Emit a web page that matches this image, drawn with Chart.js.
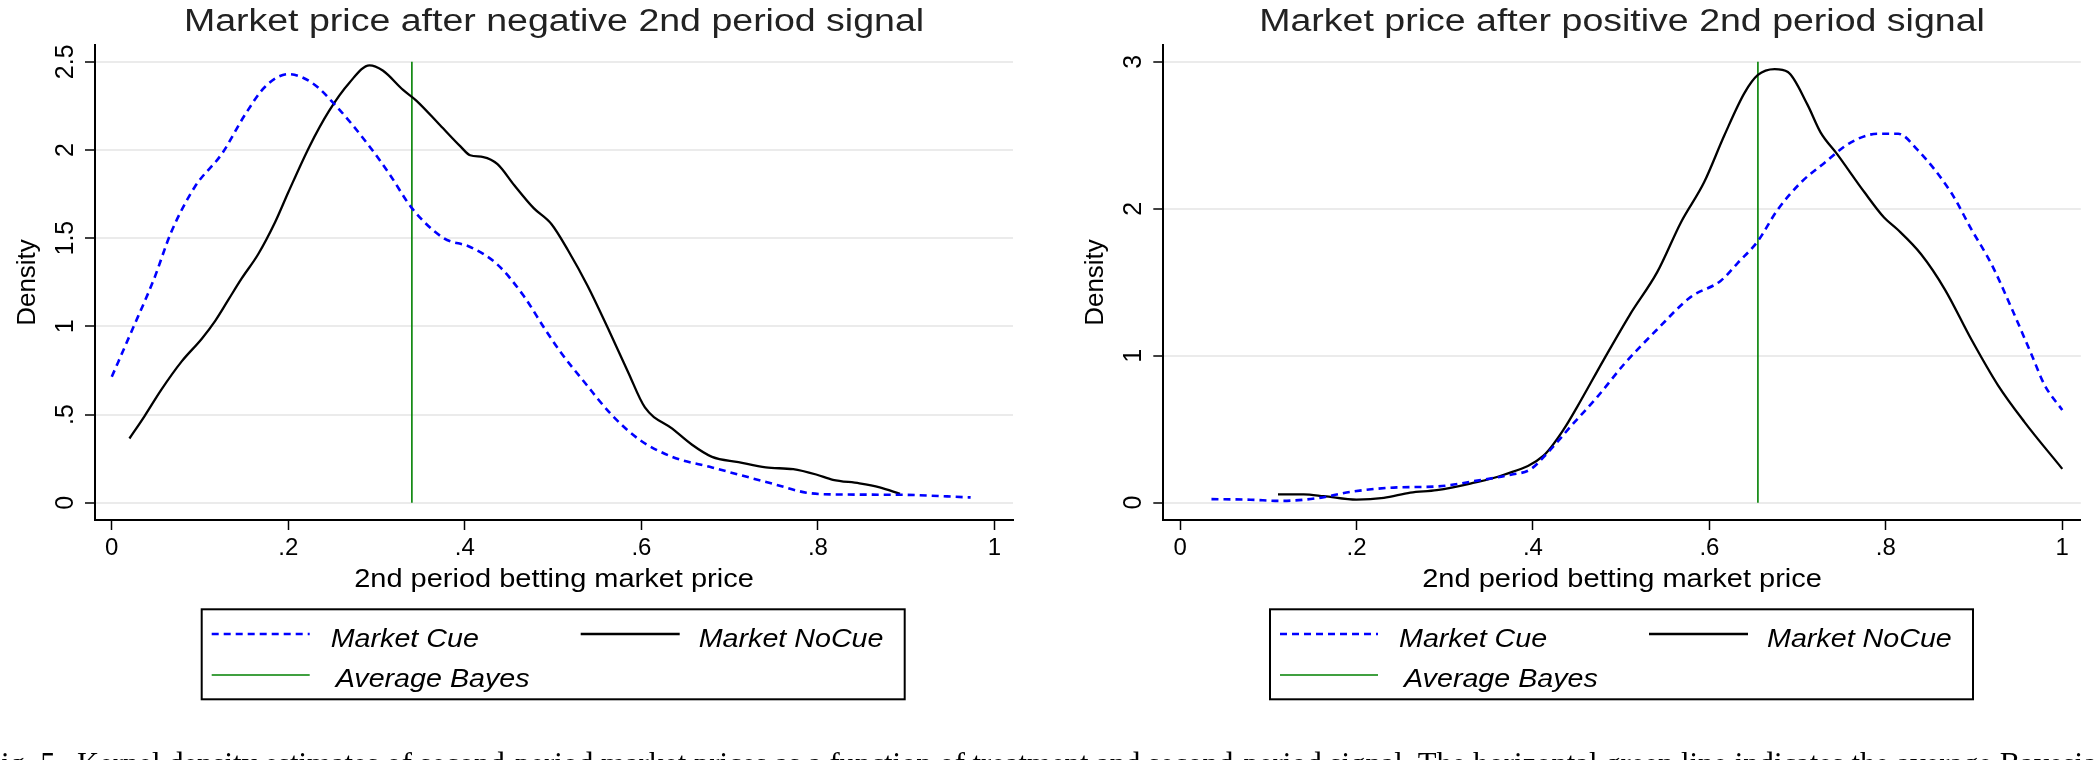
<!DOCTYPE html>
<html>
<head>
<meta charset="utf-8">
<title>Market price after 2nd period signal</title>
<script src="https://cdn.jsdelivr.net/npm/chart.js@4.4.0/dist/chart.umd.min.js"></script>
<style>
  html, body { margin: 0; padding: 0; background: #fff; }
  body { width: 2094px; height: 760px; overflow: hidden; position: relative; }
  .panel { position: absolute; top: 0; width: 1047px; height: 760px; }
  #caption {
    position: absolute; left: -16px; top: 749px; white-space: nowrap;
    font-family: "Liberation Serif", serif; font-size: 30.7px; line-height: 31px; color: #000;
  }
  #caption span { margin-left: 6px; }
</style>
</head>
<body>
<div class="panel" style="left:0"><canvas id="negChart" width="1047" height="760"></canvas></div>
<div class="panel" style="left:1047px"><canvas id="posChart" width="1047" height="760"></canvas></div>
<div id="caption">Fig. 5. <span>Kernel density estimates of second-period market prices as a function of treatment and second-period signal. The horizontal green line indicates the average Bayesian posterior.</span></div>

<script>
// ---- data ----
const xTicks = [0, 0.2, 0.4, 0.6, 0.8, 1];
const xTickLabels = ['0', '.2', '.4', '.6', '.8', '1'];

// negative 2nd period signal
const negYTicks = [0, 0.5, 1, 1.5, 2, 2.5];
const negYTickLabels = ['0', '.5', '1', '1.5', '2', '2.5'];
const negCueX = [0, 0.022, 0.048, 0.067, 0.094, 0.125, 0.151, 0.174, 0.2, 0.227, 0.254, 0.292, 0.315, 0.34, 0.376, 0.406, 0.437, 0.467, 0.49, 0.509, 0.536, 0.566, 0.597, 0.635, 0.68, 0.749, 0.787, 0.817, 0.893, 0.973];
const negCueY = [0.714, 0.967, 1.27, 1.53, 1.79, 1.98, 2.2, 2.36, 2.43, 2.38, 2.25, 2.02, 1.86, 1.67, 1.5, 1.45, 1.35, 1.17, 0.99, 0.85, 0.68, 0.5, 0.36, 0.26, 0.2, 0.107, 0.057, 0.047, 0.045, 0.03];
const negNoCueX = [0.02, 0.037, 0.056, 0.079, 0.102, 0.117, 0.132, 0.147, 0.166, 0.185, 0.2, 0.224, 0.246, 0.269, 0.292, 0.307, 0.33, 0.345, 0.372, 0.395, 0.406, 0.421, 0.437, 0.456, 0.478, 0.498, 0.517, 0.539, 0.562, 0.585, 0.604, 0.635, 0.657, 0.68, 0.71, 0.741, 0.772, 0.798, 0.817, 0.847, 0.87, 0.893];
const negNoCueY = [0.364, 0.49, 0.64, 0.8, 0.93, 1.03, 1.15, 1.27, 1.41, 1.59, 1.76, 2.02, 2.22, 2.38, 2.48, 2.45, 2.34, 2.28, 2.14, 2.02, 1.97, 1.96, 1.92, 1.8, 1.67, 1.58, 1.43, 1.23, 0.99, 0.74, 0.54, 0.42, 0.33, 0.26, 0.23, 0.2, 0.19, 0.16, 0.13, 0.11, 0.087, 0.05];
const negBayes = 0.34;

// positive 2nd period signal
const posYTicks = [0, 1, 2, 3];
const posYTickLabels = ['0', '1', '2', '3'];
const posCueX = [0.0356, 0.08, 0.114, 0.155, 0.193, 0.246, 0.291, 0.337, 0.375, 0.397, 0.416, 0.443, 0.473, 0.503, 0.541, 0.579, 0.613, 0.632, 0.655, 0.677, 0.704, 0.73, 0.76, 0.791, 0.814, 0.836, 0.874, 0.897, 0.92, 0.942, 0.965, 0.98, 1.0];
const posCueY = [0.024, 0.02, 0.012, 0.03, 0.073, 0.104, 0.11, 0.15, 0.19, 0.226, 0.335, 0.52, 0.72, 0.94, 1.18, 1.4, 1.51, 1.63, 1.78, 1.99, 2.18, 2.31, 2.45, 2.51, 2.51, 2.4, 2.11, 1.86, 1.62, 1.33, 1.01, 0.8, 0.63];
const posNoCueX = [0.111, 0.14, 0.163, 0.2, 0.231, 0.261, 0.291, 0.329, 0.367, 0.412, 0.435, 0.45, 0.48, 0.51, 0.541, 0.568, 0.594, 0.617, 0.64, 0.655, 0.674, 0.689, 0.711, 0.726, 0.745, 0.776, 0.798, 0.813, 0.84, 0.867, 0.897, 0.927, 0.957, 1.0];
const posNoCueY = [0.056, 0.056, 0.044, 0.02, 0.032, 0.068, 0.085, 0.13, 0.19, 0.32, 0.5, 0.65, 0.97, 1.28, 1.57, 1.91, 2.18, 2.5, 2.79, 2.91, 2.95, 2.93, 2.71, 2.52, 2.37, 2.11, 1.94, 1.86, 1.69, 1.45, 1.11, 0.8, 0.55, 0.23];
const posBayes = 0.655;

const FONT = '"Liberation Sans", Arial, Helvetica, sans-serif';

function toPoints(xs, ys) {
  return xs.map((x, i) => ({ x: x, y: ys[i] }));
}

// text drawn a little wider than Liberation Sans, like the Stata export
function drawStretched(ctx, text, x, y, font, sx, align, color) {
  ctx.save();
  ctx.font = font;
  ctx.fillStyle = color;
  ctx.textAlign = align;
  ctx.textBaseline = 'alphabetic';
  ctx.translate(x, y);
  ctx.scale(sx, 1);
  ctx.fillText(text, 0, 0);
  ctx.restore();
}

/**
 * Stata-style decorations: title, rotated y labels, axis titles, boxed legend
 */
const stataDecor = {
  id: 'stataDecor',
  afterDraw(chart, args, opts) {
    const ctx = chart.ctx;
    const area = chart.chartArea;
    const yScale = chart.scales.y;
    const cx = (area.left + area.right) / 2;

    drawStretched(ctx, opts.title, cx, 30.7, '31px ' + FONT, 1.21, 'center', '#222');
    drawStretched(ctx, opts.xTitle, cx, 587, '26.6px ' + FONT, 1.09, 'center', '#000');

    // y tick labels, reading upward
    ctx.save();
    ctx.font = '25px ' + FONT;
    ctx.fillStyle = '#000';
    ctx.textAlign = 'center';
    ctx.textBaseline = 'alphabetic';
    yScale.ticks.forEach((t, i) => {
      ctx.save();
      ctx.translate(area.left - 22, yScale.getPixelForValue(t.value));
      ctx.rotate(-Math.PI / 2);
      ctx.fillText(opts.yTickLabels[i], 0, 0);
      ctx.restore();
    });
    ctx.font = '26px ' + FONT;
    ctx.translate(area.left - 60, (area.top + area.bottom) / 2);
    ctx.rotate(-Math.PI / 2);
    ctx.fillText(opts.yTitle, 0, 0);
    ctx.restore();

    // legend box
    const boxLeft = area.left + 106.7;
    ctx.save();
    ctx.strokeStyle = '#000';
    ctx.lineWidth = 2;
    ctx.strokeRect(boxLeft, 609.3, 703, 90);
    const slots = [
      { sx: 10, ex: 108, tx: 129, ly: 634, by: 646.7 },
      { sx: 379, ex: 478, tx: 497, ly: 634, by: 646.7 },
      { sx: 10, ex: 108, tx: 134, ly: 675, by: 686.7 }
    ];
    chart.data.datasets.forEach((ds, i) => {
      const s = slots[i];
      ctx.save();
      ctx.strokeStyle = ds.borderColor;
      ctx.lineWidth = ds.borderWidth;
      ctx.setLineDash(ds.borderDash || []);
      ctx.beginPath();
      ctx.moveTo(boxLeft + s.sx, s.ly);
      ctx.lineTo(boxLeft + s.ex, s.ly);
      ctx.stroke();
      ctx.restore();
      drawStretched(ctx, ds.label, boxLeft + s.tx, s.by, 'italic 25.6px ' + FONT, 1.12, 'left', '#000');
    });
    ctx.restore();
  }
};

function makeChart(id, cfg) {
  const ctx = document.getElementById(id).getContext('2d');
  return new Chart(ctx, {
    type: 'line',
    data: {
      datasets: [
        {
          label: 'Market Cue',
          data: toPoints(cfg.cueX, cfg.cueY),
          borderColor: '#0000ff',
          borderWidth: 2.6,
          borderDash: [7, 5],
          pointRadius: 0,
          cubicInterpolationMode: 'monotone',
          fill: false
        },
        {
          label: 'Market NoCue',
          data: toPoints(cfg.noCueX, cfg.noCueY),
          borderColor: '#000000',
          borderWidth: 2.3,
          pointRadius: 0,
          cubicInterpolationMode: 'monotone',
          fill: false
        },
        {
          label: 'Average Bayes',
          data: [{ x: cfg.bayes, y: 0 }, { x: cfg.bayes, y: cfg.yTicks[cfg.yTicks.length - 1] }],
          borderColor: '#008000',
          borderWidth: 1.6,
          pointRadius: 0,
          tension: 0,
          fill: false
        }
      ]
    },
    options: {
      responsive: false,
      animation: false,
      events: [],
      layout: { padding: { left: 0, top: 45, right: cfg.padRight, bottom: 180 } },
      scales: {
        x: {
          type: 'linear',
          min: -0.019,
          max: 1.021,
          afterBuildTicks: (scale) => { scale.ticks = xTicks.map(v => ({ value: v })); },
          afterFit: (scale) => { scale.height = 60; },
          grid: { drawOnChartArea: false, tickLength: 10, tickColor: '#000', tickWidth: 1.5 },
          border: { color: '#000', width: 2 },
          ticks: {
            autoSkip: false,
            maxRotation: 0,
            padding: 4,
            color: '#000',
            font: { family: FONT, size: 24 },
            callback: (value, index) => xTickLabels[index]
          }
        },
        y: {
          type: 'linear',
          min: cfg.yMin,
          max: cfg.yMax,
          afterBuildTicks: (scale) => { scale.ticks = cfg.yTicks.map(v => ({ value: v })); },
          afterFit: (scale) => { scale.width = cfg.axisLeft; },
          grid: { color: '#ebebeb', lineWidth: 2, tickLength: 10, tickColor: '#000', tickWidth: 1.5 },
          border: { color: '#000', width: 2 },
          ticks: { display: false }
        }
      },
      plugins: {
        legend: { display: false },
        title: { display: false },
        tooltip: { enabled: false },
        stataDecor: {
          title: cfg.title,
          xTitle: '2nd period betting market price',
          yTitle: 'Density',
          yTickLabels: cfg.yTickLabels
        }
      }
    },
    plugins: [stataDecor]
  });
}

makeChart('negChart', {
  title: 'Market price after negative 2nd period signal',
  cueX: negCueX, cueY: negCueY,
  noCueX: negNoCueX, noCueY: negNoCueY,
  bayes: negBayes,
  yTicks: negYTicks, yTickLabels: negYTickLabels,
  yMin: -0.098, yMax: 2.595,
  axisLeft: 95, padRight: 34
});

makeChart('posChart', {
  title: 'Market price after positive 2nd period signal',
  cueX: posCueX, cueY: posCueY,
  noCueX: posNoCueX, noCueY: posNoCueY,
  bayes: posBayes,
  yTicks: posYTicks, yTickLabels: posYTickLabels,
  yMin: -0.118, yMax: 3.114,
  axisLeft: 116.3, padRight: 13.2
});
</script>
</body>
</html>
